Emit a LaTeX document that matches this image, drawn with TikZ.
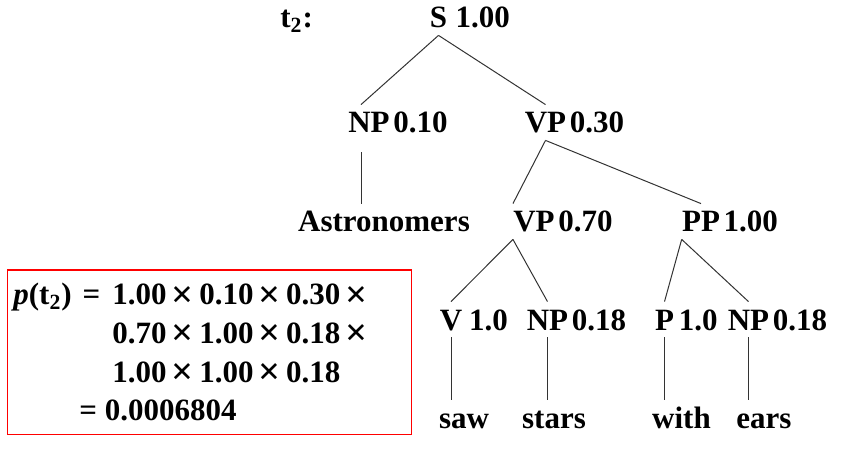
\documentclass[tikz,border=0pt]{standalone}
\usepackage{fontspec}
\setmainfont{Liberation Serif}
\usetikzlibrary{positioning}
\newcommand{\xx}{\kern0.17em\raisebox{-0.08em}{\scalebox{1.25}{×}}\kern0.17em}

\begin{document}
\begin{tikzpicture}[
    x=0.5pt, y=-0.5pt,
    font=\fontsize{15.5}{18}\selectfont\bfseries,
    cat/.style={inner xsep=0pt, inner ysep=3.5pt, text height=10.5pt, text depth=0pt},
    prob/.style={cat},
    word/.style={cat},
    edge/.style={draw=black!80, line width=0.5pt},
    formula/.style={anchor=base west, inner sep=0pt},
    redbox/.style={draw=red, line width=0.8pt}
]
    \useasboundingbox (0,0) rectangle (850,459);

    \node[formula] (tname) at (280,28) {t\textsubscript{2}:};
    \node[cat, anchor=base] (s) at (438.5,28) {S};
    \node[prob, right=3.9pt of s] (sp) {1.00};

    \node[cat, anchor=base] (np1) at (369,133) {NP};
    \node[prob, right=1.5pt of np1] (np1p) {0.10};
    \node[cat, anchor=base] (vp1) at (545.5,133) {VP};
    \node[prob, right=1.5pt of vp1] (vp1p) {0.30};

    \node[word, anchor=base] (astro) at (384,232) {Astronomers};
    \node[cat, anchor=base] (vp2) at (534,232) {VP};
    \node[prob, right=1.5pt of vp2] (vp2p) {0.70};
    \node[cat, anchor=base] (pp) at (701,232) {PP};
    \node[prob, right=1.5pt of pp] (ppp) {1.00};

    \node[cat, anchor=base] (v) at (451,330) {V};
    \node[prob, right=3pt of v] (vprob) {1.0};
    \node[cat, anchor=base] (np2) at (547.5,330) {NP};
    \node[prob, right=1.5pt of np2] (np2p) {0.18};
    \node[cat, anchor=base] (p) at (664.5,330) {P};
    \node[prob, right=2pt of p] (pprob) {1.0};
    \node[cat, anchor=base] (np3) at (748.5,330) {NP};
    \node[prob, right=1.5pt of np3] (np3p) {0.18};

    \node[word, anchor=base] (saw) at (464,428) {saw};
    \node[word, anchor=base] (stars) at (554,428) {stars};
    \node[word, anchor=base] (with) at (681.5,428) {with};
    \node[word, anchor=base] (ears) at (764,428) {ears};

    \coordinate (np1top) at ([xshift=-4pt]np1.north);
    \coordinate (np1bot) at ([xshift=-4pt]np1.south);

    \draw[edge] (s.south) -- (np1top);
    \draw[edge] (s.south) -- (vp1.north);
    \draw[edge, shorten <=6pt] (np1bot) -- (np1bot |- astro.north);
    \draw[edge] (vp1.south) -- (vp2.north west);
    \draw[edge] (vp1.south) -- (pp.north);
    \draw[edge] (vp2.south west) -- (v.north);
    \draw[edge] (vp2.south west) -- (np2.north);
    \draw[edge] (pp.south west) -- (p.north);
    \draw[edge] (pp.south west) -- (np3.north);
    \draw[edge] (v) -- (v |- saw.north);
    \draw[edge] (np2) -- (np2 |- stars.north);
    \draw[edge] (p) -- (p |- with.north);
    \draw[edge] (np3) -- (np3 |- ears.north);

    \draw[redbox] (7.5,270) rectangle (411.5,434.5);
    \node[formula] (ptwo) at (13,305) {\textit{p}(t\textsubscript{2}) \kern0.1em=};
    \node[formula] (row1) at (112,305) {1.00\xx0.10\xx0.30\xx};
    \node[formula] (row2) at (112,343.5) {0.70\xx1.00\xx0.18\xx};
    \node[formula] (row3) at (112,382) {1.00\xx1.00\xx0.18};
    \node[formula] (total) at (79,420.5) {= 0.0006804};
\end{tikzpicture}
\end{document}
